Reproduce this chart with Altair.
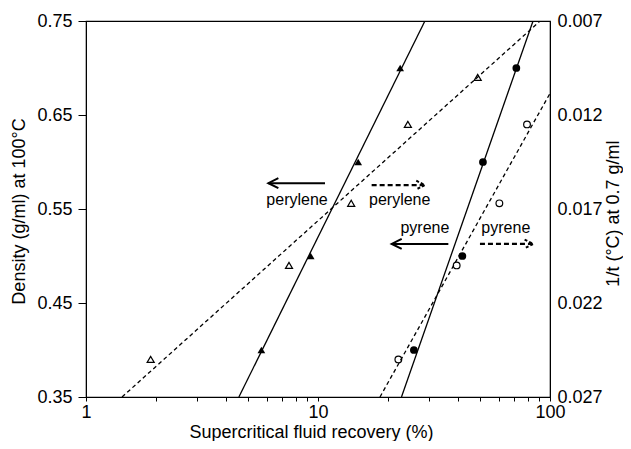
import altair as alt
import pandas as pd

# ---------------- data ----------------
# perylene, density axis (filled triangles)
pery_dens_x = [5.7, 9.3, 14.9, 22.6]
pery_dens_y = [0.40, 0.50, 0.60, 0.70]
# pyrene, density axis (filled circles)
pyr_dens_x = [25.9, 41.9, 51.4, 71.6]
pyr_dens_y = [0.40, 0.50, 0.60, 0.70]
# perylene, 1/t axis (open triangles)
pery_inv_x = [1.9, 7.5, 13.9, 24.4, 48.8]
pery_inv_y = [0.0250, 0.0200, 0.0167, 0.0125, 0.0100]
# pyrene, 1/t axis (open circles)
pyr_inv_x = [22.2, 39.6, 60.5, 79.6]
pyr_inv_y = [0.0250, 0.0200, 0.0167, 0.0125]

# fitted lines (end points)
pery_dens_fit_x = [4.56, 28.9]
pery_dens_fit_y = [0.35, 0.75]
pyr_dens_fit_x = [22.9, 84.5]
pyr_dens_fit_y = [0.35, 0.75]
pery_inv_fit_x = [1.43, 90.6]
pery_inv_fit_y = [0.027, 0.007]
pyr_inv_fit_x = [18.5, 100.0]
pyr_inv_fit_y = [0.027, 0.01085]

# axis ticks
x_ticks = [1, 2, 3, 4, 5, 6, 7, 8, 9, 10, 20, 30, 40, 50, 60, 70, 80, 90, 100]
dens_ticks = [0.35, 0.45, 0.55, 0.65, 0.75]
inv_ticks = [0.007, 0.012, 0.017, 0.022, 0.027]

# annotations (in recovery / density coordinates)
label_text = ["perylene", "perylene", "pyrene", "pyrene"]
label_x = [8.12, 22.5, 28.9, 64.5]
label_y = [0.5596, 0.5596, 0.5303, 0.5303]

solid_arrow_id = ["pery", "pery", "pyr", "pyr"]
solid_arrow_x = [6.11, 10.72, 20.78, 36.46]
solid_arrow_y = [0.5775, 0.5775, 0.5128, 0.5128]
dash_arrow_id = ["pery", "pery", "pyr", "pyr"]
dash_arrow_x = [17.03, 28.6, 49.9, 84.2]
dash_arrow_y = [0.5755, 0.5755, 0.5128, 0.5128]
left_head_x = [6.11, 20.78]
left_head_y = [0.5775, 0.5128]
right_head_x = [28.9, 84.7]
right_head_y = [0.5755, 0.5128]

# ---------------- tables ----------------
tri_f = pd.DataFrame({"x": pery_dens_x, "y": pery_dens_y})
cir_f = pd.DataFrame({"x": pyr_dens_x, "y": pyr_dens_y})
tri_o = pd.DataFrame({"x": pery_inv_x, "y": pery_inv_y})
cir_o = pd.DataFrame({"x": pyr_inv_x, "y": pyr_inv_y})
fit_dens = pd.DataFrame({
    "x": pery_dens_fit_x + pyr_dens_fit_x,
    "y": pery_dens_fit_y + pyr_dens_fit_y,
    "s": ["pery"] * 2 + ["pyr"] * 2,
})
fit_inv = pd.DataFrame({
    "x": pery_inv_fit_x + pyr_inv_fit_x,
    "y": pery_inv_fit_y + pyr_inv_fit_y,
    "s": ["pery"] * 2 + ["pyr"] * 2,
})
labels = pd.DataFrame({"x": label_x, "y": label_y, "t": label_text})
sarrow = pd.DataFrame({"x": solid_arrow_x, "y": solid_arrow_y, "s": solid_arrow_id})
darrow = pd.DataFrame({"x": dash_arrow_x, "y": dash_arrow_y, "s": dash_arrow_id})
lhead = pd.DataFrame({"x": left_head_x, "y": left_head_y})
rhead = pd.DataFrame({"x": right_head_x, "y": right_head_y})

FONT = "Liberation Sans"
W, H = 464, 376

xscale = alt.Scale(type="log", domain=[1, 100], nice=False)
ydens = alt.Scale(domain=[0.35, 0.75], zero=False, nice=False)
yinv = alt.Scale(domain=[0.007, 0.027], zero=False, nice=False, reverse=True)

xaxis = alt.Axis(
    values=x_ticks, format="d",
    labelExpr="(datum.value == 1 || datum.value == 10 || datum.value == 100) ? datum.label : ''",
    title="Supercritical fluid recovery (%)",
    tickSize=4, labelPadding=2, labelFlush=False, labelOverlap=False,
    titleX=225, titleY=35, titleBaseline="middle", titleAlign="center", titleFontSize=18,
    grid=False,
)
yaxis_l = alt.Axis(
    orient="left", values=dens_ticks, format=".2f",
    title="Density (g/ml) at 100°C",
    tickSize=8, labelPadding=6, labelFlush=False, labelOverlap=False,
    titleAngle=270, titleX=-67, titleY=190, titleAlign="center", titleBaseline="middle",
    grid=False,
)
yaxis_r = alt.Axis(
    orient="right", values=inv_ticks, format=".3f",
    title="1/t (°C) at 0.7 g/ml",
    ticks=False, tickSize=0, labelPadding=7, labelFlush=False, labelOverlap=False,
    titleAngle=270, titleX=63, titleY=192, titleAlign="center", titleBaseline="middle",
    grid=False,
)


def xenc():
    return alt.X("x:Q", scale=xscale, axis=xaxis)


def yl():
    return alt.Y("y:Q", scale=ydens, axis=yaxis_l)


def yr():
    return alt.Y("y:Q", scale=yinv, axis=yaxis_r)


left = alt.layer(
    alt.Chart(fit_dens).mark_line(color="black", strokeWidth=1.3, clip=True).encode(
        x=xenc(), y=yl(), detail="s:N"),
    alt.Chart(tri_f).mark_point(shape="triangle-up", filled=True, color="black", size=60, opacity=1).encode(
        x=xenc(), y=yl()),
    alt.Chart(cir_f).mark_point(shape="circle", filled=True, color="black", size=60, opacity=1).encode(
        x=xenc(), y=yl()),
    alt.Chart(sarrow).mark_line(color="black", strokeWidth=2).encode(
        x=xenc(), y=yl(), detail="s:N"),
    alt.Chart(darrow).mark_line(color="black", strokeWidth=2.2, strokeDash=[5, 3]).encode(
        x=xenc(), y=yl(), detail="s:N"),
    alt.Chart(lhead).mark_point(shape="M 1 -0.5 L 0 0 L 1 0.5", filled=False, color="black",
                                size=400, strokeWidth=2, opacity=1).encode(x=xenc(), y=yl()),
    alt.Chart(rhead).mark_point(shape="M -1 -0.5 L 0 0 L -1 0.5", filled=False, color="black",
                                size=300, strokeWidth=2, strokeDash=[3, 2], opacity=1).encode(x=xenc(), y=yl()),
    alt.Chart(labels).mark_text(font=FONT, fontSize=16, color="black", baseline="middle", align="center").encode(
        x=xenc(), y=yl(), text="t:N"),
)

right = alt.layer(
    alt.Chart(fit_inv).mark_line(color="black", strokeWidth=1.3, strokeDash=[4, 3], clip=True).encode(
        x=xenc(), y=yr(), detail="s:N"),
    alt.Chart(tri_o).mark_point(shape="triangle-up", filled=False, color="black", size=50,
                                strokeWidth=1.2, opacity=1).encode(x=xenc(), y=yr()),
    alt.Chart(cir_o).mark_point(shape="circle", filled=False, color="black", size=45,
                                strokeWidth=1.2, opacity=1).encode(x=xenc(), y=yr()),
)

chart = alt.layer(left, right).resolve_scale(y="independent").properties(
    width=W, height=H,
    autosize=alt.AutoSizeParams(type="none"),
    padding={"left": 78, "top": 13, "right": 73, "bottom": 44},
).configure(
    font=FONT,
    background="white",
).configure_axis(
    labelFont=FONT, titleFont=FONT, labelFontSize=18, titleFontSize=18,
    titleFontWeight="normal", labelColor="black", titleColor="black",
    tickColor="black", domainColor="black", domainWidth=1, tickWidth=1,
).configure_view(
    stroke="black", strokeWidth=1.2,
)

chart.save("out.html", embed_options={"renderer": "svg", "actions": False})
